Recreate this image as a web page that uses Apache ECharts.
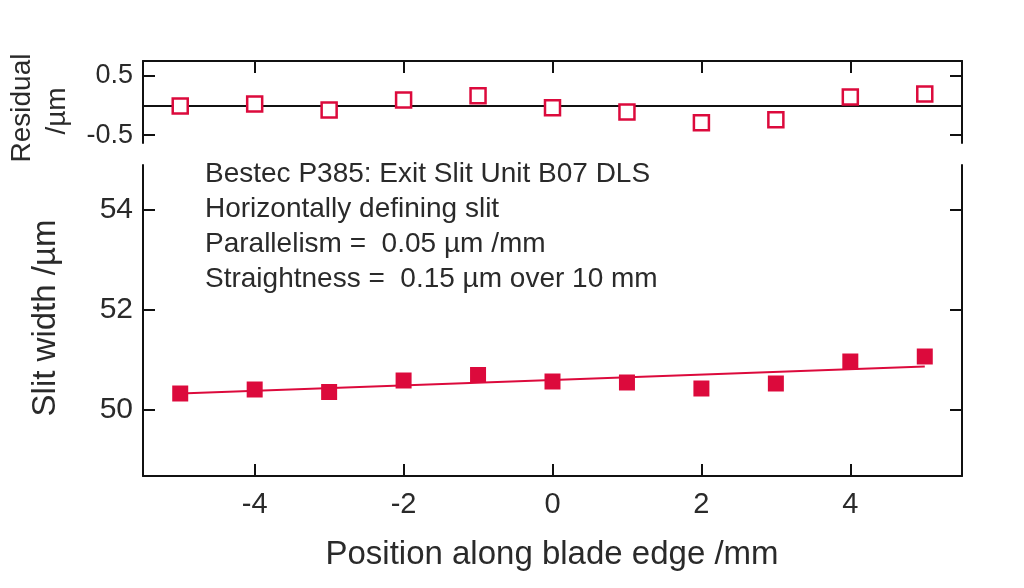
<!DOCTYPE html>
<html>
<head>
<meta charset="utf-8">
<script src="https://cdn.jsdelivr.net/npm/echarts@6/dist/echarts.min.js"></script>
<style>
html,body{margin:0;padding:0;background:#fff;}
#c{width:1024px;height:588px;}
</style>
</head>
<body>
<div id="c"></div>
<script>
const positions = [-5, -4, -3, -2, -1, 0, 1, 2, 3, 4, 5];
const slitWidth = [50.33, 50.41, 50.36, 50.59, 50.70, 50.57, 50.55, 50.43, 50.53, 50.97, 51.07];
const residuals = [-0.01, 0.02, -0.08, 0.09, 0.16, -0.04, -0.11, -0.29, -0.24, 0.14, 0.19];
const fitPositions = [-5, 5];
const fitWidths = [50.33, 50.87];
const xTicks = [-4, -2, 0, 2, 4];
const widthTicks = [50, 52, 54];
const residualTicks = [-0.5, 0.5];
const annotationLines = [
  'Bestec P385: Exit Slit Unit B07 DLS',
  'Horizontally defining slit',
  'Parallelism =  0.05 µm /mm',
  'Straightness =  0.15 µm over 10 mm'
];

const RED = '#dc0a3c';
const FONT = '"Liberation Sans", Arial, Helvetica, sans-serif';
const TXT = '#2a2a2a';
const axisLine = {show: true, onZero: false, lineStyle: {color: '#111', width: 2}};
function ticks(vals) {
  return {show: true, inside: true, length: 12, customValues: vals, lineStyle: {color: '#111', width: 2}};
}

const chart = echarts.init(document.getElementById('c'));
chart.setOption({
  animation: false,
  backgroundColor: '#fff',
  grid: [
    {left: 143, right: 62, top: 61, height: 82},
    {left: 143, right: 62, top: 165, bottom: 112}
  ],
  xAxis: [
    {type: 'value', gridIndex: 0, position: 'top', min: -5.5, max: 5.5,
     axisLine: axisLine, axisTick: ticks(xTicks), axisLabel: {show: false}, splitLine: {show: false}},
    {type: 'value', gridIndex: 0, position: 'bottom', min: -5.5, max: 5.5,
     axisLine: {show: true, onZero: true, lineStyle: {color: '#111', width: 2}},
     axisTick: {show: false}, axisLabel: {show: false}, splitLine: {show: false}},
    {type: 'value', gridIndex: 1, position: 'bottom', min: -5.5, max: 5.5,
     axisLine: axisLine, axisTick: ticks(xTicks),
     axisLabel: {customValues: xTicks, margin: 14, fontSize: 29, color: TXT, fontFamily: FONT},
     splitLine: {show: false}}
  ],
  yAxis: [
    {type: 'value', gridIndex: 0, position: 'left', min: -0.63, max: 0.74,
     axisLine: axisLine, axisTick: ticks(residualTicks),
     axisLabel: {customValues: residualTicks, margin: 10, fontSize: 27, color: TXT, fontFamily: FONT},
     splitLine: {show: false}},
    {type: 'value', gridIndex: 0, position: 'right', min: -0.63, max: 0.74,
     axisLine: axisLine, axisTick: ticks(residualTicks), axisLabel: {show: false}, splitLine: {show: false}},
    {type: 'value', gridIndex: 1, position: 'left', min: 48.68, max: 54.9,
     axisLine: axisLine, axisTick: ticks(widthTicks),
     axisLabel: {customValues: widthTicks, margin: 10, fontSize: 30, color: TXT, fontFamily: FONT},
     splitLine: {show: false}},
    {type: 'value', gridIndex: 1, position: 'right', min: 48.68, max: 54.9,
     axisLine: axisLine, axisTick: ticks(widthTicks), axisLabel: {show: false}, splitLine: {show: false}}
  ],
  graphic: [
    {type: 'text', x: 22, y: 108, rotation: Math.PI / 2,
     style: {text: 'Residual', fontSize: 28, fontFamily: FONT, fill: TXT, align: 'center', verticalAlign: 'middle'}},
    {type: 'text', x: 57, y: 111, rotation: Math.PI / 2,
     style: {text: '/µm', fontSize: 28, fontFamily: FONT, fill: TXT, align: 'center', verticalAlign: 'middle'}},
    {type: 'text', x: 46, y: 318, rotation: Math.PI / 2,
     style: {text: 'Slit width /µm', fontSize: 33, fontFamily: FONT, fill: TXT, align: 'center', verticalAlign: 'middle'}},
    {type: 'text', x: 552, y: 555,
     style: {text: 'Position along blade edge /mm', fontSize: 33, fontFamily: FONT, fill: TXT, align: 'center', verticalAlign: 'middle'}},
    {type: 'text', left: 205, top: 157,
     style: {text: annotationLines.join('\n'), fontSize: 28, lineHeight: 35, fontFamily: FONT, fill: TXT}}
  ],
  series: [
    {type: 'scatter', xAxisIndex: 0, yAxisIndex: 0, z: 5,
     data: positions.map((x, i) => [x, residuals[i]]),
     symbol: 'rect', symbolSize: 15,
     itemStyle: {color: '#fff', borderColor: RED, borderWidth: 2.5, opacity: 1}},
    {type: 'line', xAxisIndex: 2, yAxisIndex: 2, z: 2,
     data: fitPositions.map((x, i) => [x, fitWidths[i]]),
     showSymbol: false, lineStyle: {color: RED, width: 2}},
    {type: 'scatter', xAxisIndex: 2, yAxisIndex: 2, z: 5,
     data: positions.map((x, i) => [x, slitWidth[i]]),
     symbol: 'rect', symbolSize: 16,
     itemStyle: {color: RED, opacity: 1}}
  ]
});
</script>
</body>
</html>
